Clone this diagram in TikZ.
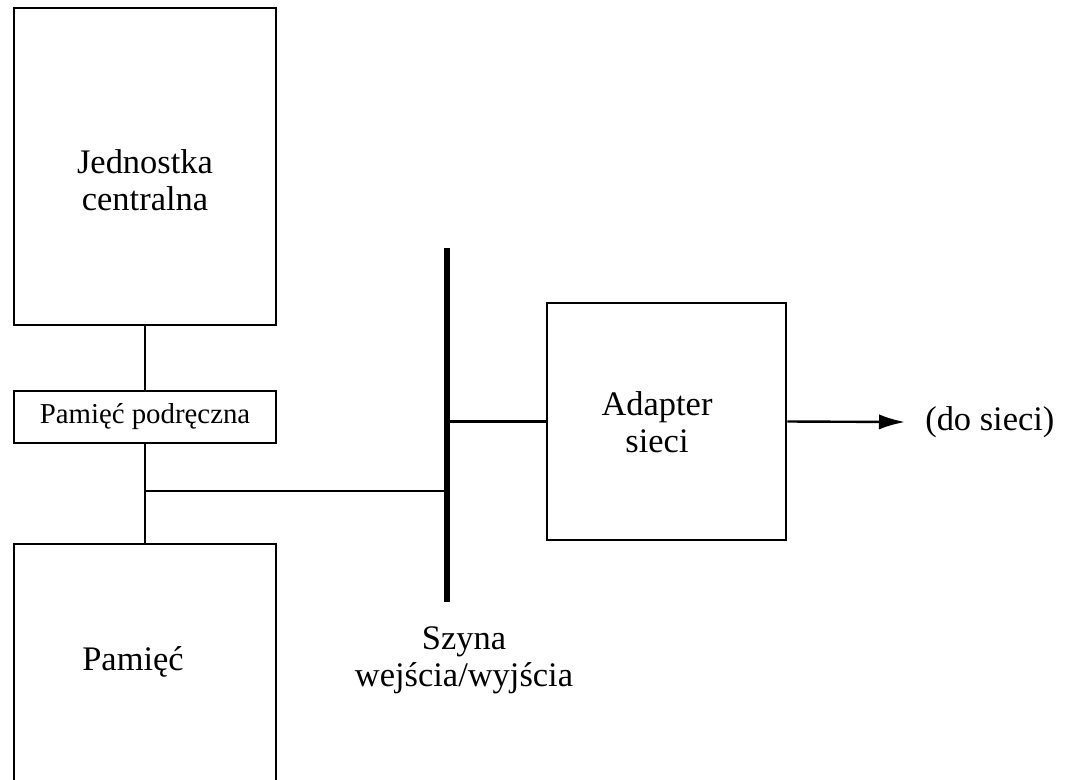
\documentclass[tikz,border=0pt]{standalone}
\usepackage{fontspec}
\setmainfont{Liberation Serif}
\usetikzlibrary{arrows.meta,calc}

\def\jd{0.025cm}

\tikzset{
  blok/.style={draw, line width=2.1pt, inner sep=0pt},
  linia/.style={line width=1.7pt},
  szyna/.style={line width=4.2pt},
  opis/.style={font=\fontsize{24.5}{26.5}\selectfont, align=center, inner sep=0pt},
  opismaly/.style={font=\fontsize{20.5}{22}\selectfont, inner sep=0pt},
}

\begin{document}
\begin{tikzpicture}[x=0.025cm, y=-0.025cm]

  \useasboundingbox (0,0) rectangle (1065,779);
  \clip (0,0) rectangle (1065,779);

  % lewa kolumna
  \node[blok, minimum width=262*\jd, minimum height=317*\jd] (cpu) at (145,166.5) {};
  \node[opis] (cputxt) at (145,180) {Jednostka\\centralna};

  \node[blok, minimum width=262*\jd, minimum height=52*\jd, opismaly] (cache) at (145,417) {Pamięć podręczna};

  \node[blok, minimum width=262*\jd, minimum height=356*\jd] (mem) at (145,722) {};
  \node[opis] (memtxt) at (133,662) {Pamięć};

  % szyna we/wy
  \coordinate (busT) at (447,248);
  \coordinate (busB) at (447,602);
  \draw[szyna] (busT) -- (busB);
  \node[opis, below=24*\jd] (bustxt) at (busB -| 464,0) {Szyna\\wejścia/wyjścia};

  % adapter
  \node[blok, minimum width=239*\jd, minimum height=237*\jd] (adapter) at (666.5,421.5) {};
  \node[opis] (adtxt) at (657,422) {Adapter\\sieci};

  \coordinate (j) at (145,491);
  \draw[linia] (cpu.south) -- (cache.north);
  \draw[linia] (cache.south) -- (mem.north);
  \draw[linia] (j) -- (j -| busT);
  \draw[linia] (adapter.west) -- (adapter.west -| busT);

  \coordinate (net) at (905,422);
  \draw[linia, -{Latex[length=6.5mm, width=3.8mm]}] (adapter.east) -- (net);
  \node[opis, anchor=west] (nettxt) at (925,422) {(do sieci)};

\end{tikzpicture}
\end{document}
